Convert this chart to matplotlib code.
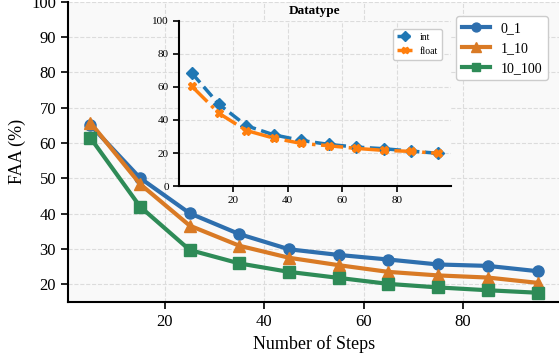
import numpy as np
import matplotlib
matplotlib.use("Agg")
import matplotlib.pyplot as plt

plt.rcParams['font.family'] = ['Liberation Serif', 'DejaVu Serif']

steps = [5, 15, 25, 35, 45, 55, 65, 75, 85, 95]

# main series (FAA %)
faa_0_1 = [65.1, 50.1, 40.1, 34.2, 29.9, 28.3, 27.0, 25.6, 25.2, 23.7]
faa_1_10 = [65.8, 48.4, 36.6, 30.9, 27.5, 25.4, 23.5, 22.5, 21.9, 20.4]
faa_10_100 = [61.5, 42.0, 29.7, 25.9, 23.5, 21.8, 20.1, 19.1, 18.3, 17.6]

# inset series
faa_int = [68.5, 49.4, 36.5, 31.0, 27.6, 25.2, 23.6, 22.6, 21.2, 19.8]
faa_float = [60.5, 44.0, 33.6, 29.0, 25.8, 24.4, 22.8, 21.6, 21.0, 19.8]

fig = plt.figure(figsize=(5.59, 3.62), dpi=100)
ax = fig.add_axes([0.1216, 0.166, 0.88, 0.829])
ax.set_facecolor('#f9f9f9')

ax.plot(steps, faa_0_1, '-o', color='#2e6fae', lw=3, ms=8, label='0_1')
ax.plot(steps, faa_1_10, '-^', color='#d97a25', lw=3, ms=9, label='1_10')
ax.plot(steps, faa_10_100, '-s', color='#2e8b57', lw=3, ms=8, label='10_100')

ax.set_ylim(15, 100)
ax.set_xlim(0.5, 99.5)
ax.set_yticks(np.arange(20, 101, 10))
ax.set_xticks([20, 40, 60, 80])
ax.tick_params(labelsize=12, length=5, width=1.2)
ax.grid(True, ls='--', color='#dcdcdc', lw=0.8)
for s in ['top', 'right']:
    ax.spines[s].set_visible(False)
for s in ['left', 'bottom']:
    ax.spines[s].set_linewidth(1.5)
ax.set_xlabel('Number of Steps', fontsize=13)
ax.set_ylabel('FAA (%)', fontsize=13)
ax.legend(loc='upper right', fontsize=10, framealpha=1, edgecolor='#cccccc',
          handlelength=2.0, markerscale=0.8, bbox_to_anchor=(0.99, 0.975))

# inset
ins = fig.add_axes([0.3207, 0.486, 0.4855, 0.4566])
ins.set_facecolor('#f9f9f9')
ins.plot(steps, faa_int, '--D', color='#1f77b4', lw=2.5, ms=6, label='int')
ins.plot(steps, faa_float, '-.X', color='#ff7f0e', lw=2.5, ms=6, label='float')
ins.set_ylim(0, 100)
ins.set_xlim(0.5, 99.5)
ins.set_xticks([20, 40, 60, 80])
ins.set_yticks([0, 20, 40, 60, 80, 100])
ins.tick_params(labelsize=8, length=4, width=1.2)
ins.grid(True, ls='--', color='#dcdcdc', lw=0.8)
for s in ['top', 'right']:
    ins.spines[s].set_visible(False)
for s in ['left', 'bottom']:
    ins.spines[s].set_linewidth(1.5)
ins.set_title('Datatype', fontsize=9.5, fontweight='bold', pad=5)
ins.legend(loc='upper right', fontsize=7, framealpha=1, edgecolor='#cccccc',
           handlelength=1.5, markerscale=0.8, bbox_to_anchor=(0.985, 0.98))

fig.savefig('out.png', dpi=100)
